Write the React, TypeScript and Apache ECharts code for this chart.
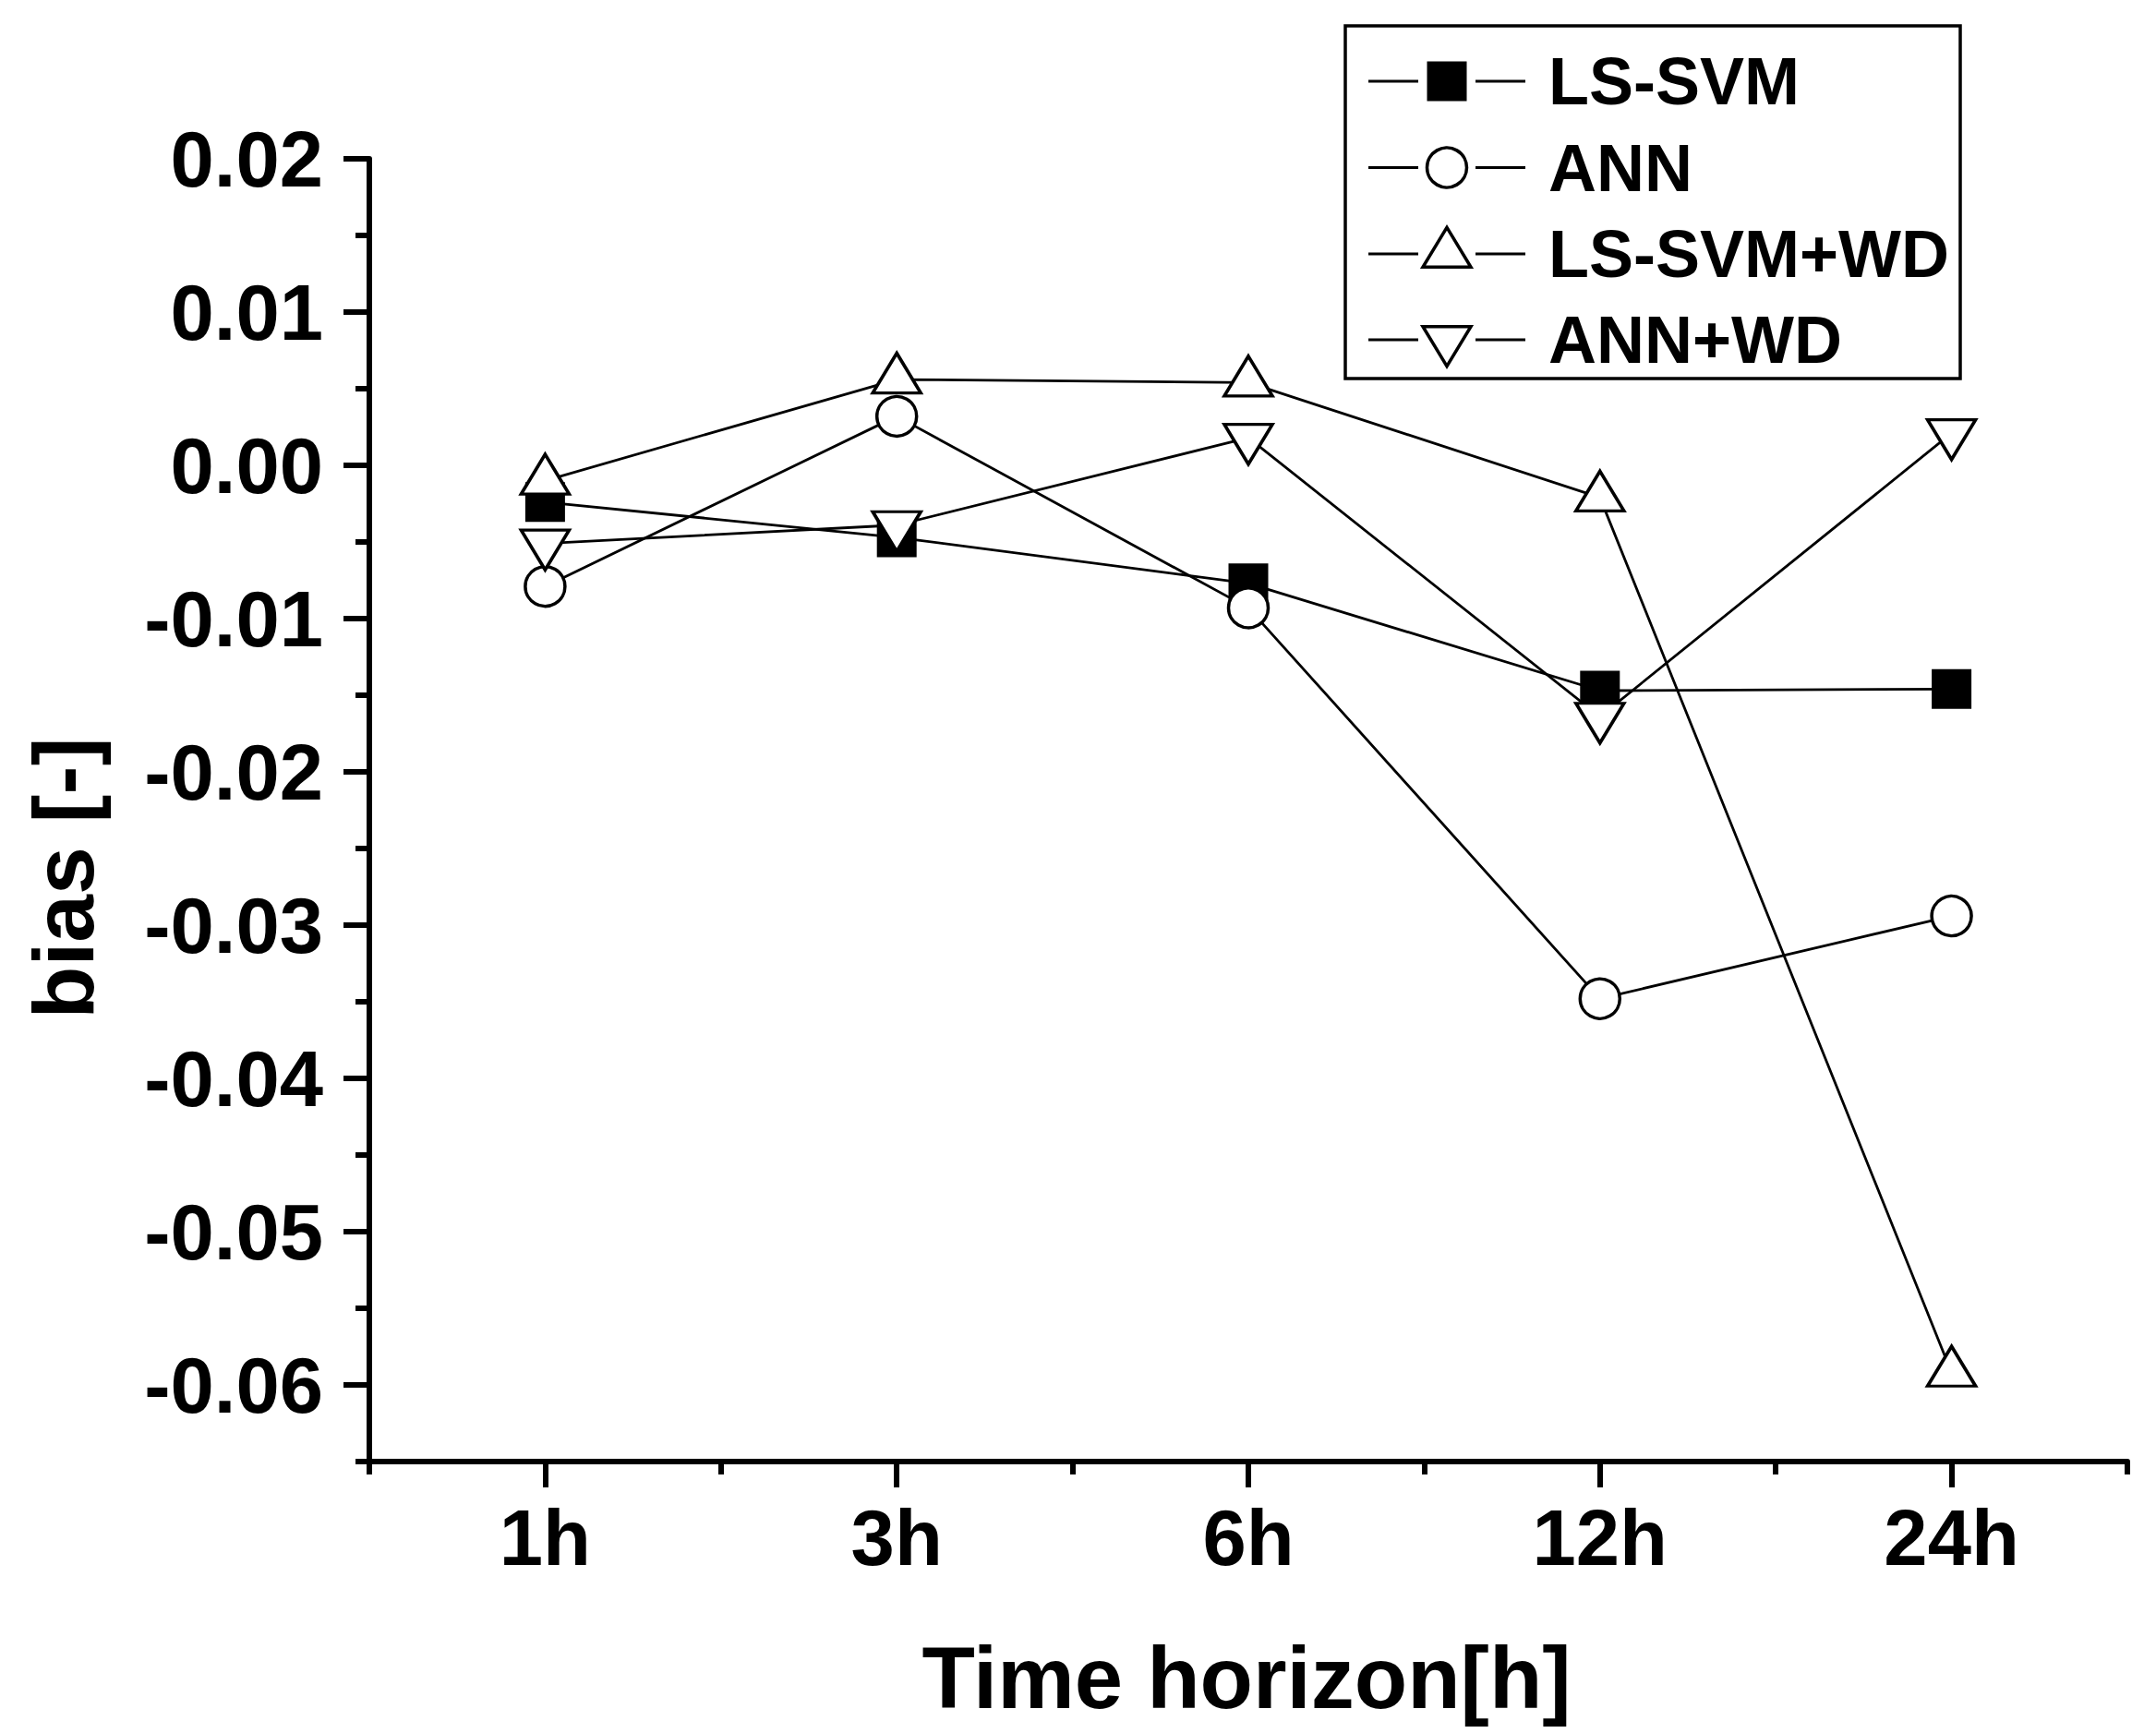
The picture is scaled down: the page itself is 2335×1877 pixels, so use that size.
import React, { useEffect, useRef } from "react";
import * as echarts from "echarts";

const categories = ["1h", "3h", "6h", "12h", "24h"];
const lsSvm = [-0.0024, -0.0047, -0.0077, -0.0147, -0.0146];
const ann = [-0.0079, 0.0032, -0.0093, -0.0348, -0.0294];
const lsSvmWd = [-0.001, 0.0056, 0.0054, -0.0021, -0.0592];
const annWd = [-0.0051, -0.0039, 0.0018, -0.0164, 0.0021];
const seriesNames = ["LS-SVM", "ANN", "LS-SVM+WD", "ANN+WD"];
const yMajorTicks = [-0.06, -0.05, -0.04, -0.03, -0.02, -0.01, 0, 0.01, 0.02];
const yMinorTicks = [-0.065, -0.055, -0.045, -0.035, -0.025, -0.015, -0.005, 0.005, 0.015];

const FONT = '"Liberation Sans", Arial, sans-serif';
const DOWN_TRI = "path://M0,0L2,0L1,2Z";

export default function App() {
  const ref = useRef<HTMLDivElement>(null);

  useEffect(() => {
    document.body.style.margin = "0";
    const chart = echarts.init(ref.current!, null, { renderer: "svg" });

    const lineBase = {
      type: "line" as const,
      xAxisIndex: 0,
      yAxisIndex: 0,
      lineStyle: { color: "#000", width: 2.8 },
      itemStyle: { color: "#fff", borderColor: "#000", borderWidth: 3.5 },
      symbolSize: 43,
      emphasis: { disabled: true },
    };

    // legend drawn with graphic elements
    const legendX0 = 1457;
    const legendY0 = 28;
    const rowY = [88, 181.5, 275, 368];
    const mx = 1567;
    const graphics: any[] = [
      {
        type: "rect",
        shape: { x: legendX0, y: legendY0, width: 666, height: 382 },
        style: { fill: "#fff", stroke: "#000", lineWidth: 3.5 },
        z: 100,
      },
    ];
    seriesNames.forEach((name, i) => {
      const cy = rowY[i];
      graphics.push(
        { type: "line", shape: { x1: 1482, y1: cy, x2: 1536, y2: cy }, style: { stroke: "#000", lineWidth: 3 }, z: 101 },
        { type: "line", shape: { x1: 1598, y1: cy, x2: 1652, y2: cy }, style: { stroke: "#000", lineWidth: 3 }, z: 101 },
      );
      if (i === 0) {
        graphics.push({ type: "rect", shape: { x: mx - 21.5, y: cy - 21.5, width: 43, height: 43 }, style: { fill: "#000" }, z: 101 });
      } else if (i === 1) {
        graphics.push({ type: "circle", shape: { cx: mx, cy, r: 21.5 }, style: { fill: "#fff", stroke: "#000", lineWidth: 3.5 }, z: 101 });
      } else if (i === 2) {
        graphics.push({
          type: "polygon",
          shape: { points: [[mx, cy - 28.7], [mx + 26, cy + 14.3], [mx - 26, cy + 14.3]] },
          style: { fill: "#fff", stroke: "#000", lineWidth: 3.5 },
          z: 101,
        });
      } else {
        graphics.push({
          type: "polygon",
          shape: { points: [[mx - 26, cy - 14.3], [mx + 26, cy - 14.3], [mx, cy + 28.7]] },
          style: { fill: "#fff", stroke: "#000", lineWidth: 3.5 },
          z: 101,
        });
      }
      graphics.push({
        type: "text",
        x: 1677,
        y: cy,
        style: { text: name, fontSize: 72, fontWeight: "bold", fontFamily: FONT, fill: "#000", align: "left", verticalAlign: "middle" },
        z: 101,
      });
    });
    // axis titles
    graphics.push({
      type: "text",
      x: 1350,
      y: 1817,
      style: { text: "Time horizon[h]", fontSize: 94, fontWeight: "bold", fontFamily: FONT, fill: "#000", align: "center", verticalAlign: "middle" },
    });
    graphics.push({
      type: "text",
      x: 69,
      y: 951,
      rotation: Math.PI / 2,
      style: { text: "bias [-]", fontSize: 93, fontWeight: "bold", fontFamily: FONT, fill: "#000", align: "center", verticalAlign: "middle" },
    });

    chart.setOption({
      animation: false,
      backgroundColor: "#fff",
      grid: { left: 400, right: 31, top: 172, bottom: 294, containLabel: false },
      xAxis: [
        {
          type: "category",
          data: categories,
          position: "bottom",
          boundaryGap: true,
          axisLine: { show: true, onZero: false, lineStyle: { color: "#000", width: 6 } },
          axisTick: { show: true, alignWithLabel: true, length: 28, lineStyle: { color: "#000", width: 6 } },
          axisLabel: { show: true, fontSize: 85, fontWeight: "bold", fontFamily: FONT, color: "#000", margin: 40 },
          splitLine: { show: false },
        },
        {
          type: "category",
          data: categories,
          position: "bottom",
          boundaryGap: true,
          axisLine: { show: false, onZero: false },
          axisTick: { show: true, alignWithLabel: false, length: 14, lineStyle: { color: "#000", width: 6 } },
          axisLabel: { show: false },
          splitLine: { show: false },
        },
      ],
      yAxis: [
        {
          type: "value",
          position: "left",
          min: -0.065,
          max: 0.02,
          axisLine: { show: true, onZero: false, lineStyle: { color: "#000", width: 6 } },
          axisTick: { show: true, length: 28, customValues: yMajorTicks, lineStyle: { color: "#000", width: 6 } },
          axisLabel: {
            show: true,
            customValues: yMajorTicks,
            formatter: (v: number) => v.toFixed(2),
            fontSize: 85,
            fontWeight: "bold",
            fontFamily: FONT,
            color: "#000",
            margin: 50,
            padding: [0, 0, 14, 0],
          },
          splitLine: { show: false },
        },
        {
          type: "value",
          position: "left",
          min: -0.065,
          max: 0.02,
          axisLine: { show: false, onZero: false },
          axisTick: { show: true, length: 15, customValues: yMinorTicks, lineStyle: { color: "#000", width: 6 } },
          axisLabel: { show: false },
          splitLine: { show: false },
        },
      ],
      series: [
        { ...lineBase, name: seriesNames[0], data: lsSvm, symbol: "rect", itemStyle: { color: "#000", borderColor: "#000", borderWidth: 0 } },
        { ...lineBase, name: seriesNames[1], data: ann, symbol: "circle" },
        { ...lineBase, name: seriesNames[2], data: lsSvmWd, symbol: "triangle", symbolSize: [52, 43], symbolOffset: [0, -7] },
        { ...lineBase, name: seriesNames[3], data: annWd, symbol: DOWN_TRI, symbolSize: [52, 43], symbolOffset: [0, 7] },
      ],
      graphic: graphics,
    });

    return () => chart.dispose();
  }, []);

  return (
    <div
      ref={ref}
      style={{ position: "fixed", left: 0, top: 0, width: 2335, height: 1877, background: "#fff" }}
    />
  );
}
